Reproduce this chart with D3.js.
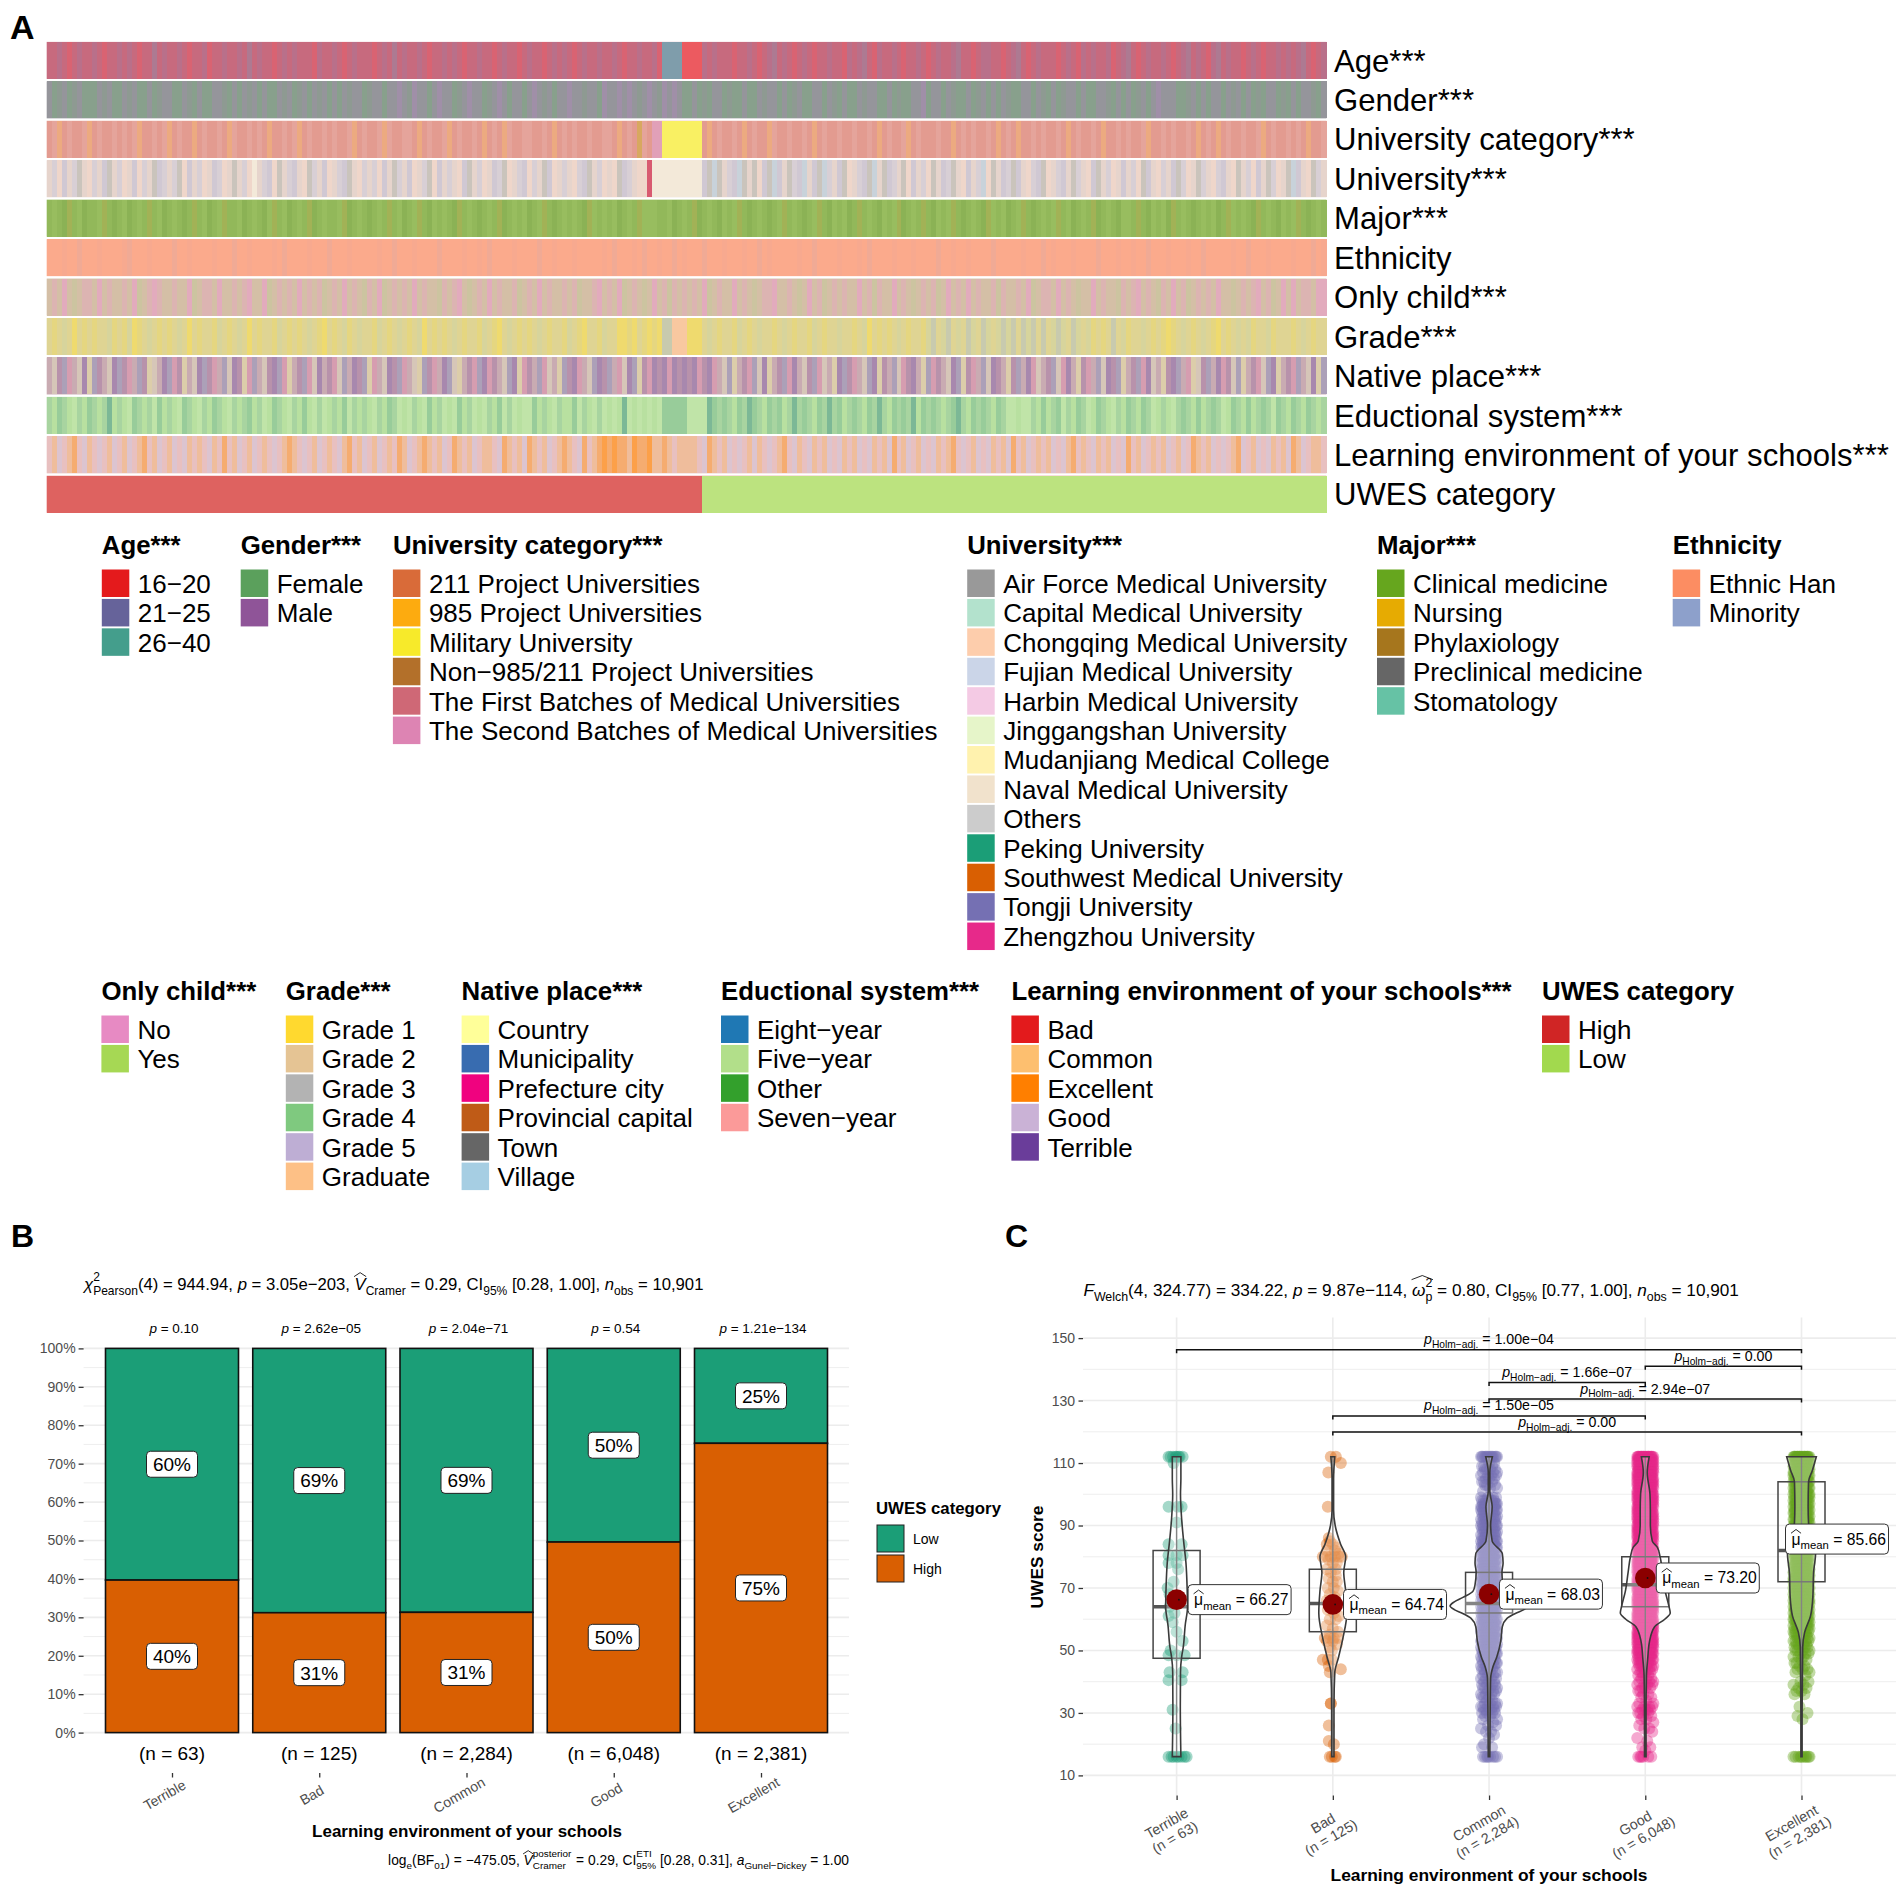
<!DOCTYPE html>
<html><head><meta charset="utf-8">
<script src="https://cdn.jsdelivr.net/npm/d3@7"></script>
<style>
html,body{margin:0;padding:0;background:#fff}
svg{display:block}
text{font-family:"Liberation Sans",Arial,sans-serif;fill:#000}
</style></head><body><svg id="c" width="1902" height="1891"></svg>
<script>
// ---------- Panel A: stripes (one letter per stripe) ----------
const rowNames=["Age***","Gender***","University category***","University***","Major***","Ethnicity","Only child***","Grade***","Native place***","Eductional system***","Learning environment of your schools***","UWES category"];
const stripesAge="aabacaba abacaaba bacaadab aabacaab caabaaba dabaacab abaaacba abacabaa acabadab aabacaab abacaaba acabaaca baacabab acabaaba abacaaba abceeeef fffbabaa acaabaca bdabacab acaabaac babdacba abacaaba cabaabda acabbaac abdacaba aacabacb abaabcab dacabaab acabdaba cbdabaac abacaaba babdacab";
const stripesGender="aghaghag ggahagga haggagha aggahgag gaahgaga hagaggah aghagaha gagahaag haagaapa hpaagapa aghapaag hapagaag apahagaa paahaagp aapapaha pahpapag gaghgaag hggaggah aagaghag gaagahga ggahaagg aghggaap gaagahgg aghagaga hggaagah gaghaaga ggaahgag aghagapa aagghaga gaagahag aghgaagh gagaahga";
const stripesUniCat="aboabaab oabaabab aboaabab oabaaoab aabaobaa babaoaab aboabaab abaaboab aabobaab baoabaab oabaabao abaobaab baabaoab abaabaab baoabasb appyyyyy yyyaoaba abaoabaa obaabaab aoabaaba abaabaoa baaboaba aabaaoab abaabaoa baoaabab aabaoaba abaoaaba baaboaab abaabaoa baoabaab aaboabaa babaoaab";
const stripesUniversity="abcdabea cbadeabc adcbaedb abecdabc adbcaeab cfabdcea bdacebad cabdeacb abcdaeba dcabecda bacdeabc adbecabd cbaedcab acbdeabc acedbacc rfffffff fffdegea bdgeaecd egdaebdg adegbade cabdegae dbaecdab ceadbeac dabgcead bedacbde cabdaeba cdeabcad abcedacb adebcaeb acbdacea bcdaebca egdaceba";
const stripesMajor="abadcabd aabcadab dabacabd abadacab dabcaabd abadbcab dabacdab aabcdaba dabacabd abcadbab adcabada bacdabab dabcadab abadcbab abdabacb bbaabdab acdabadb abcadaba dabcabad abcadbab dacabadb abcdabac adbabcad abadcbab dabcadab abcabdab acdabadb bacadbab dcabadab abdacbab adcabadb abcadaba";
const stripesEthnicity="aaabaaca aabaaaab caaabaaa acaabaaa abaaacaa baaaabac aaaabaaa caaabaaa aabaacaa abaaaaca aaabaaba caaaabaa aacaabaa abaaaaab acaaabac aabaacab aaacaaab aaabaaca baaaaaba acaaaaba aabacaaa abaaabaa aacaabaa baaaacaa aaabaaac abaaabaa aacaaaba abaacaaa baaabaac aaaaabaa caaabaaa abaaacab";
const stripesOnlyChild="abacadab bacabaab acdabcba abaacdab bacaabab caacdaba bacababd abacabad bacdabab acabaadb abcadaba cabaabda bacabaab abdaabca bacdabad acabdbab abacdaba acabadab bcaabada cabdabab aacabdba acabadab abdacaba cabaabdb aabacdab bacabada acabaadb abcabadb acabdaba bacaadab abcabdac acabbacc";
const stripesGrade="abacadab abaacbab cdbacaba bacadaba abcabaca dabaabca babacabd abacbaca abcabaca bacdabab acabaabc abdacaba bacabaab cabdaabc aaddbdab dbdeefff dddacaba abcabaca abacabaa bcabaaca abacdaba bacabaab ceaceaca ecaecace ceaeceae acecaeca cbabaeac baacabab dbacabac abdabaca cbaacbaa abacabaa";
const stripesNative="aebcdaef gcbaefcb dacbgeaf cdbgaefc bdacefbg dcaebfcd gabcdefa bdecafbc gdaefbcd aegcbdaf cegabdcf dbaecfgd bacdeagc bfdaecfb cadefcgb dfbfdfbf bfdbfdae cgabdcef gabcdfae bcdeagfc bdaecfgb acedbfag cdbaefcg bdacefba gbcafdea bcedfagb dacefbcg abcdfeag bfcadgeb cafdbecg abdecfga bdcaefgc";
const stripesEducation="abcabdab cabaebab dcabadcb abdcabda bcabdaba cbadbcab dabcbdad babcdaba bdabcadb dabdcbad bdcbadbd abcdadbd dcbabdab bcdabdad bdbedbdb dbdccccc ddddecac abcaecab cacbaeac abcaeacb acabcaea bcacaebc acabacea bcacabca ddbddabc bacdabca dbcabdab cabcadba bdacabcb acadbcab cbacadca bcabcaba";
const stripesLearning="abdabcad badabdab dabcabda bdadbaba dbacabda bdabadab cbadabda badbcabd abdabacb dabcbabd acbabdab badcbabd cbabdabc badcabce ceccbecc ebbcbabb bbadcbab dadabdba dabcadba dbabdadb abdadbab dcabdabd adbabcad abdadbab dcabdaba bdadbcab adbabdad cabdabab dabdacba bdadabcd abdadbab dcbdabba";
const stripesUWES="H".repeat(131)+"L".repeat(125);
const stripeRows=[stripesAge,stripesGender,stripesUniCat,stripesUniversity,stripesMajor,stripesEthnicity,stripesOnlyChild,stripesGrade,stripesNative,stripesEducation,stripesLearning,stripesUWES];
// Blended stripe colours
const stripeColours=[
 {a:"#c76a7e",b:"#b9708a",c:"#d96472",d:"#ad7a92",e:"#7f9dab",f:"#ec5a60"},
 {a:"#95959b",g:"#88a08c",p:"#a08fa8",h:"#8e9a92"},
 {a:"#e39b90",b:"#e5a49b",o:"#ecaa80",p:"#e1a0b8",y:"#f9f064",s:"#d8a860"},
 {a:"#e6d4cc",b:"#d8cfd5",c:"#efd6ca",d:"#d0c8d3",e:"#cac4bc",f:"#f3e9d9",r:"#d85a70",g:"#c8d2da"},
 {a:"#92b85a",b:"#98bd5e",c:"#a2b257",d:"#8bb254"},
 {a:"#fbaa8c",b:"#f7a98f",c:"#f0aa95"},
 {a:"#d4bfa6",b:"#dcb4b2",c:"#e2abbd",d:"#ccc4a0"},
 {a:"#dfd493",b:"#e5d680",c:"#d7d49c",d:"#efda6e",e:"#c8caae",f:"#f8c8a0"},
 {a:"#c9abb2",b:"#b892ab",c:"#aca0b8",d:"#d69db0",e:"#d6c6b8",f:"#a888ae",g:"#dccdaa"},
 {a:"#a8d4a0",b:"#b8e0a0",c:"#98cc9a",d:"#c0e4a8",e:"#7cb896"},
 {a:"#e8c0c0",b:"#efbd9c",c:"#f5ac70",d:"#dcc4d0",e:"#fca048"},
 {H:"#de6260",L:"#bce37f"}];

// ---------- Legends ----------
const legendAge=["16−20","21−25","26−40"];
const legendGender=["Female","Male"];
const legendUniCat=["211 Project Universities","985 Project Universities","Military University","Non−985/211 Project Universities","The First Batches of Medical Universities","The Second Batches of Medical Universities"];
const legendUniversity=["Air Force Medical University","Capital Medical University","Chongqing Medical University","Fujian Medical University","Harbin Medical University","Jinggangshan University","Mudanjiang Medical College","Naval Medical University","Others","Peking University","Southwest Medical University","Tongji University","Zhengzhou University"];
const legendMajor=["Clinical medicine","Nursing","Phylaxiology","Preclinical medicine","Stomatology"];
const legendEthnicity=["Ethnic Han","Minority"];
const legendOnlyChild=["No","Yes"];
const legendGrade=["Grade 1","Grade 2","Grade 3","Grade 4","Grade 5","Graduate"];
const legendNative=["Country","Municipality","Prefecture city","Provincial capital","Town","Village"];
const legendEducation=["Eight−year","Five−year","Other","Seven−year"];
const legendLearning=["Bad","Common","Excellent","Good","Terrible"];
const legendUWES=["High","Low"];
const coloursAge=["#e41a1c","#66639a","#449e8c"];
const coloursGender=["#5ba05c","#8f5498"];
const coloursUniCat=["#d96b39","#fdab0f","#f7ea2a","#b3702a","#cf6876","#dd84b3"];
const coloursUniversity=["#999999","#b3e2cd","#fdcdac","#cbd5e8","#f4cae4","#e6f5c9","#fff2ae","#f1e2cc","#cccccc","#1b9e77","#d95f02","#7570b3","#e7298a"];
const coloursMajor=["#66a61e","#e6ab02","#a6761d","#666666","#66c2a5"];
const coloursEthnicity=["#fc8d62","#8da0cb"];
const coloursOnlyChild=["#e78ac3","#a6d854"];
const coloursGrade=["#ffd92f","#e5c494","#b3b3b3","#7fc97f","#beaed4","#fdc086"];
const coloursNative=["#ffff99","#386cb0","#f0027f","#bf5b17","#666666","#a6cee3"];
const coloursEducation=["#1f78b4","#b2df8a","#33a02c","#fb9a99"];
const coloursLearning=["#e31a1c","#fdbf6f","#ff7f00","#cab2d6","#6a3d9a"];
const coloursUWES=["#d02525","#a2d94e"];

// ---------- Panel B ----------
const envCategories=["Terrible","Bad","Common","Good","Excellent"];
const envCounts=["(n = 63)","(n = 125)","(n = 2,284)","(n = 6,048)","(n = 2,381)"];
const highShare=[39.7,31.2,31.3,49.6,75.3];
const groupP=["0.10","2.62e−05","2.04e−71","0.54","1.21e−134"];
const yTicksB=[0,10,20,30,40,50,60,70,80,90,100];

// ---------- Panel C ----------
const means=[66.27,64.74,68.03,73.20,85.66];
const boxQ1=[47.5,56,62,64,72];
const boxMedian=[64,65,65,71,82];
const boxQ3=[82,76,75,80,104];
const whiskerLow=[16,16,16,16,16];
const whiskerHigh=[112,112,112,112,112];
const groupColours=["#1b9e77","#d95f02","#7570b3","#e7298a","#66a61e"];
// [score, density as % of widest]
const violinTerrible=[[112,11],[105,11],[100,10],[92,13],[85,18],[78,24],[70,27],[64,28],[58,22],[51,17],[48,13],[43,10],[32,9.5],[16,11]];
const violinBad=[[112,5],[105,2],[95,2],[90,6],[84,20],[80,33],[75,28],[69,33],[62,36],[54,26],[48,15],[43,5],[32,3],[16,3]];
const violinCommon=[[112,8.5],[107,2],[101,2],[96,8],[90,4],[85,8],[81,34],[78,36],[75,33],[71,36],[69,41],[67,67],[65.5,90],[64.2,100],[63,88],[62,70],[60.3,46],[57.6,34],[53,30],[48,20],[44.8,10],[41,4],[32,3],[16,2]];
const violinGood=[[112,10],[107,5],[100,12],[95,13],[90,13],[85,18],[83,31],[80,38],[75,44],[69,51],[64,61],[62,64],[60,50],[57.6,24],[53,11],[47,6],[42,3],[30,2],[16,2]];
const violinExcellent=[[112,38],[107.7,28],[104,18],[96,17],[91,18],[81,36],[75,31],[67,29],[61,23],[55.8,8],[51,3],[30,1.5],[16,1.5]];
const violins=[violinTerrible,violinBad,violinCommon,violinGood,violinExcellent];
// sparse groups: [score, jitter]
const pointsTerrible=[[112,-8],[112,-6],[112,-3.5],[112,-1],[112,0],[112,2],[112,3],[112,6],[110,-3],[96,-8],[96,1],[96,5],[91,0],[84,-8],[84,5],[80.5,-8],[80.5,0],[80.5,6],[78,-8],[78,0],[76,1.5],[72,-3],[70,-9],[68,-7],[66,-5],[64,-7],[62,-2],[61,-8],[59,-4],[56,0],[53,6],[50,-6],[48.5,-8],[48.5,0],[48.5,8],[43,-7],[43,6],[40.5,-8],[40.5,5],[31,-4],[25,-1],[16,-8],[16,-5],[16,-3],[16,0],[16,2],[16,5],[16,8],[16,10]];
const pointsBad=[[112,-2],[112,3],[110,8],[107,-4.5],[96,-5],[86,-4],[85,-3],[84,-6],[84,0],[83,3],[82,-6],[82,2],[81,6],[80,-10],[80,-6],[80,-2],[80,2],[80,6],[80,9],[79,-4],[78,0],[78,4],[76,-6],[76,3],[75,-2],[74,3],[73,-4],[72,0],[72,4],[70,-5],[70,1],[69,5],[68,-3],[67,2],[66,-6],[65,0],[64,4],[63,-5],[62,1],[61,6],[60,-3],[60,3],[58,-6],[57,0],[56,5],[55,-3],[54,-8],[54,-3],[54,1],[54,5],[53,-6],[53,0],[52,4],[51,-3],[50,-1],[47,-10],[47,-5],[47,-1],[45,-4],[44,8],[43,-3],[33,-2],[33,-2],[26,-4],[21,-4],[20,1],[16,-3],[16,-1],[16,2],[16,3]];
// dense groups: [score, number of dots drawn]
const countsCommon=[[112,14],[110,2],[109,3],[108,4],[107,3],[106,4],[105,3],[104,3],[103,3],[102,2],[101,1],[99,4],[98,7],[97,9],[96,11],[95,8],[94,7],[93,7],[92,7],[91,6],[90,7],[89,6],[88,7],[87,7],[86,6],[85,8],[84,8],[83,8],[82,8],[81,8],[80,9],[79,8],[78,8],[77,8],[76,8],[75,8],[74,8],[73,8],[72,9],[71,8],[70,8],[69,8],[68,9],[67,8],[66,8],[65,9],[64,9],[63,8],[62,8],[61,8],[60,8],[59,8],[58,8],[57,8],[56,8],[55,8],[54,8],[53,8],[52,7],[51,6],[50,7],[49,6],[48,6],[47,5],[46,6],[45,5],[44,4],[43,4],[42,3],[41,4],[40,3],[39,4],[38,4],[37,3],[36,4],[35,3],[34,2],[33,4],[32,5],[31,5],[30,4],[29,2],[28,2],[27,1],[26,2],[25,1],[24,2],[23,1],[22,1],[20,1],[19,2],[16,8]];
const countsGood=[[112,22],[111,14],[110,14],[109,14],[108,14],[107,14],[106,14],[105,14],[104,14],[103,14],[102,14],[101,14],[100,14],[99,14],[98,14],[97,14],[96,14],[95,14],[94,14],[93,14],[92,14],[91,14],[90,14],[89,14],[88,14],[87,14],[86,14],[85,14],[84,14],[83,14],[82,14],[81,14],[80,14],[79,14],[78,14],[77,14],[76,14],[75,14],[74,14],[73,14],[72,14],[71,14],[70,14],[69,14],[68,14],[67,14],[66,14],[65,14],[64,14],[63,14],[62,14],[61,14],[60,14],[59,14],[58,14],[57,14],[56,14],[55,14],[54,14],[53,14],[52,14],[51,12],[50,12],[49,10],[48,9],[47,8],[46,7],[45,6],[44,5],[43,4],[42,3],[41,3],[40,3],[39,4],[38,3],[37,2],[36,2],[35,2],[34,1],[33,2],[32,4],[31,4],[30,3],[29,2],[28,2],[27,1],[26,1],[25,2],[24,1],[22,1],[21,1],[19,2],[18,1],[16,6]];
const countsExcellent=[[112,22],[111,12],[110,10],[109,9],[108,9],[107,9],[106,9],[105,9],[104,9],[103,9],[102,9],[101,9],[100,9],[99,9],[98,9],[97,9],[96,9],[95,9],[94,9],[93,9],[92,9],[91,9],[90,9],[89,9],[88,9],[87,9],[86,9],[85,9],[84,9],[83,9],[82,9],[81,9],[80,9],[79,9],[78,9],[77,9],[76,9],[75,9],[74,9],[73,9],[72,9],[71,9],[70,9],[69,9],[68,9],[67,9],[66,9],[65,9],[64,9],[63,9],[62,9],[61,9],[60,9],[59,8],[58,8],[57,7],[56,6],[55,6],[54,5],[53,5],[52,5],[51,4],[50,4],[49,3],[48,3],[47,2],[46,2],[45,2],[44,3],[43,2],[42,1],[40,2],[39,2],[38,2],[37,2],[36,2],[32,1],[30,1],[29,1],[28,1],[16,10]];
const jitterList=[-7,3,-2,6,-4,1,8,-6,4,-1,7,-8,2,-3,5,0,-5];
const bracketPairs=[[0,4,146.3,"1.00e−04"],[3,4,141,"0.00"],[2,3,135.8,"1.66e−07"],[2,4,130.5,"2.94e−07"],[1,3,125.1,"1.50e−05"],[1,4,119.9,"0.00"]];
const yTicksC=[10,30,50,70,90,110,130,150];
const yMinorC=[20,40,60,80,100,120,140];

// ---------- Helpers ----------
const svg=d3.select("#c");
const greyText="#4d4d4d", gridCol="#ececec";

function rich(parent,x,y,parts,o={}){
  const t=parent.append("text").attr("x",x).attr("y",y).attr("font-size",o.size||15)
    .attr("text-anchor",o.anchor||"start");
  const base=o.size||15, small=base*0.72, d=base*0.28, up=base*0.55;
  let shift=0; const hats=[];
  const span=(txt,fs,off,it,dx)=>{
    const s=t.append("tspan").text(txt).attr("font-size",fs).attr("dy",off-shift);
    if(it)s.attr("font-style","italic");
    if(dx)s.attr("dx",dx);
    shift=off; return s;
  };
  parts.forEach(p=>{
    if(typeof p==="string")span(p,base,0);
    else if(p.hat){
      span(p.hat,base,0,!p.upright);
      hats.push({idx:t.node().getNumberOfChars()-1,top:p.top,extra:p.extra||0});
    }
    else if(p.i)span(p.i,base,0,true);
    else if(p.sub&&p.sup){
      const a=span(p.sup,small,-up);
      const w=a.node().getComputedTextLength();
      const b=span(p.sub,small,d,false,-w);
      const w2=b.node().getComputedTextLength();
      if(w2<w)span("\u200a",small,d,false,w-w2);
    }
    else if(p.sub)span(p.sub,small,d);
  });
  hats.forEach(h=>{
    const e=t.node().getExtentOfChar(h.idx);
    const x0=e.x-0.5, x1=e.x+e.width+0.5+h.extra, yb=y-base*h.top;
    parent.append("path").attr("d",`M${x0},${yb}L${(x0+x1)/2},${yb-base*0.24}L${x1},${yb}`)
      .attr("fill","none").attr("stroke","#111").attr("stroke-width",0.9);
  });
  return t;
}

// ---------- Panel A ----------
const defs=svg.append("defs");
defs.append("filter").attr("id","soft").attr("x","-1%").attr("width","102%")
  .append("feGaussianBlur").attr("stdDeviation","0.6 0");
const xHeat=d3.scaleBand().domain(d3.range(256)).range([46.7,1326.4]);
const yHeat=d3.scaleBand().domain(rowNames).range([41.9,512.8]).paddingInner(0.0616);
const gA=svg.append("g");
rowNames.forEach((name,r)=>{
  const letters=stripeRows[r].replace(/ /g,"").split("");
  const g=gA.append("g").attr("filter","url(#soft)");
  g.append("rect").attr("x",xHeat.range()[0]).attr("width",xHeat.range()[1]-xHeat.range()[0])
   .attr("y",yHeat(name)).attr("height",yHeat.bandwidth())
   .attr("fill",stripeColours[r][Object.keys(stripeColours[r])[0]]);
  g.selectAll("rect.s").data(letters).join("rect").attr("class","s")
   .attr("shape-rendering","crispEdges")
   .attr("x",(d,i)=>xHeat(i)).attr("width",xHeat.bandwidth()+0.4)
   .attr("y",yHeat(name)).attr("height",yHeat.bandwidth())
   .attr("fill",d=>stripeColours[r][d]);
  gA.append("text").attr("x",1334).attr("y",yHeat(name)+yHeat.bandwidth()/2)
   .attr("dy","0.36em").attr("font-size",31.1).text(name);
});
svg.append("text").attr("x",10).attr("y",39).attr("font-size",34).attr("font-weight","bold").text("A");
svg.append("text").attr("x",11).attr("y",1247).attr("font-size",32).attr("font-weight","bold").text("B");
svg.append("text").attr("x",1005).attr("y",1247).attr("font-size",32).attr("font-weight","bold").text("C");

function legend(x,yTitle,title,labels,colours){
  const g=svg.append("g");
  g.append("text").attr("x",x).attr("y",yTitle).attr("dy","0.36em").attr("font-weight","bold").attr("font-size",25.8).text(title);
  const y=d3.scaleLinear().domain([0,1]).range([yTitle+24.5,yTitle+24.5+29.42]);
  g.selectAll("rect").data(labels).join("rect").attr("x",x).attr("y",(d,i)=>y(i)).attr("width",27.5).attr("height",27.5)
   .attr("fill",(d,i)=>colours[i]);
  g.selectAll("text.l").data(labels).join("text").attr("class","l").attr("x",x+36).attr("y",(d,i)=>y(i)+14)
   .attr("dy","0.36em").attr("font-size",26).text(d=>d);
}
legend(101.8,545,"Age***",legendAge,coloursAge);
legend(240.7,545,"Gender***",legendGender,coloursGender);
legend(392.9,545,"University category***",legendUniCat,coloursUniCat);
legend(967.2,545,"University***",legendUniversity,coloursUniversity);
legend(1377,545,"Major***",legendMajor,coloursMajor);
legend(1672.7,545,"Ethnicity",legendEthnicity,coloursEthnicity);
legend(101.4,991,"Only child***",legendOnlyChild,coloursOnlyChild);
legend(285.8,991,"Grade***",legendGrade,coloursGrade);
legend(461.6,991,"Native place***",legendNative,coloursNative);
legend(721,991,"Eductional system***",legendEducation,coloursEducation);
legend(1011.4,991,"Learning environment of your schools***",legendLearning,coloursLearning);
legend(1542,991,"UWES category",legendUWES,coloursUWES);

// ---------- Panel B ----------
const gB=svg.append("g");
const xBc=d3.scalePoint().domain(envCategories).range([172,761]);
const yB=d3.scaleLinear().domain([0,100]).range([1732.6,1348.4]);
d3.range(0,101,5).forEach(v=>{
  gB.append("line").attr("x1",83.6).attr("x2",849).attr("y1",yB(v)).attr("y2",yB(v))
   .attr("stroke",gridCol).attr("stroke-width",v%10===0?1.6:0.9);
});
const bandB=133;
envCategories.forEach((c,i)=>{
  const cx=xBc(c), hi=highShare[i];
  [[100,hi,"#1b9e77"],[hi,0,"#d95f02"]].forEach(([a,b,col])=>{
    gB.append("rect").attr("x",cx-bandB/2).attr("width",bandB).attr("y",yB(a)).attr("height",yB(b)-yB(a))
      .attr("fill",col).attr("stroke","#111").attr("stroke-width",1.6);
  });
});
envCategories.forEach((c,i)=>{
  const cx=xBc(c), hi=highShare[i];
  [[100,hi],[hi,0]].forEach(([a,b])=>{
    const yc=yB((a+b)/2);
    gB.append("rect").attr("x",cx-25.5).attr("y",yc-13).attr("width",51).attr("height",26).attr("rx",4)
      .attr("fill","#fff").attr("stroke","#222").attr("stroke-width",1);
    gB.append("text").attr("x",cx).attr("y",yc).attr("dy","0.36em").attr("text-anchor","middle").attr("font-size",19)
      .text(Math.round(a-b)+"%");
  });
  rich(gB,cx+2,1332.5,[{i:"p"}," = "+groupP[i]],{size:13.5,anchor:"middle"});
  gB.append("text").attr("x",cx).attr("y",1752.7).attr("dy","0.36em").attr("text-anchor","middle").attr("font-size",19).text(envCounts[i]);
});
const axB=gB.append("g").attr("transform","translate(83.6,0)")
  .call(d3.axisLeft(yB).tickValues(yTicksB).tickFormat(d=>d+"%").tickSize(5).tickPadding(3));
axB.select(".domain").remove();
axB.selectAll("line").attr("stroke","#333").attr("stroke-width",1.3);
axB.selectAll("text").attr("font-size",14).style("fill",greyText).style("font-family",'"Liberation Sans"');
const axBx=gB.append("g").attr("transform","translate(0,1773)").call(d3.axisBottom(xBc).tickSize(4.5));
axBx.select(".domain").remove();
axBx.selectAll("line").attr("stroke","#333").attr("stroke-width",1.3);
axBx.selectAll("text").attr("font-size",14).style("fill",greyText).style("font-family",'"Liberation Sans"')
  .attr("text-anchor","middle").attr("x",0).attr("y",0).attr("dy","0.36em")
  .attr("transform","translate(-8,22) rotate(-30)");
gB.append("text").attr("x",467).attr("y",1831).attr("dy","0.36em").attr("text-anchor","middle").attr("font-weight","bold").attr("font-size",17).text("Learning environment of your schools");
rich(gB,84,1290,[{i:"χ"},{sup:"2",sub:"Pearson"},"(4) = 944.94, ",{i:"p"}," = 3.05e−203, ",{hat:"V",top:0.8},{sub:"Cramer"}," = 0.29, CI",{sub:"95%"}," [0.28, 1.00], ",{i:"n"},{sub:"obs"}," = 10,901"],{size:16.7});
rich(gB,849,1865,["log",{sub:"e"},"(BF",{sub:"01"},") = −475.05, ",{hat:"V",top:0.8},{sup:"posterior",sub:"Cramer"}," = 0.29, CI",{sup:"ETI",sub:"95%"}," [0.28, 0.31], ",{i:"a"},{sub:"Gunel−Dickey"}," = 1.00"],{size:13.8,anchor:"end"});
// B legend
gB.append("text").attr("x",876).attr("y",1507.5).attr("dy","0.36em").attr("font-weight","bold").attr("font-size",16.8).text("UWES category");
[["Low","#1b9e77"],["High","#d95f02"]].forEach(([l,col],i)=>{
  gB.append("rect").attr("x",877).attr("y",1525+30*i).attr("width",27).attr("height",27).attr("fill",col).attr("stroke","#222").attr("stroke-width",1);
  gB.append("text").attr("x",913).attr("y",1539+30*i).attr("dy","0.36em").attr("font-size",14).text(l);
});

// ---------- Panel C ----------
const gC=svg.append("g");
const xC=d3.scalePoint().domain(envCategories).range([1176.6,1801.5]);
const yC=d3.scaleLinear().domain([10,150]).range([1775.4,1338.1]);
const jitter=d3.scaleLinear().domain([-10,10]).range([-10,10]);
const vWidth=d3.scaleLinear().domain([0,100]).range([0,39]);
yMinorC.forEach(v=>gC.append("line").attr("x1",1083).attr("x2",1896).attr("y1",yC(v)).attr("y2",yC(v)).attr("stroke",gridCol).attr("stroke-width",0.9));
yTicksC.forEach(v=>gC.append("line").attr("x1",1083).attr("x2",1896).attr("y1",yC(v)).attr("y2",yC(v)).attr("stroke",gridCol).attr("stroke-width",1.6));
envCategories.forEach(c=>gC.append("line").attr("x1",xC(c)).attr("x2",xC(c)).attr("y1",1317.6).attr("y2",1795.5).attr("stroke",gridCol).attr("stroke-width",1.6));
const axC=gC.append("g").attr("transform","translate(1083,0)").call(d3.axisLeft(yC).tickValues(yTicksC).tickSize(4.5).tickPadding(3.5));
axC.select(".domain").remove();
axC.selectAll("line").attr("stroke","#333").attr("stroke-width",1.3);
axC.selectAll("text").attr("font-size",14).style("fill",greyText).style("font-family",'"Liberation Sans"');
const axCx=gC.append("g").attr("transform","translate(0,1795.5)").call(d3.axisBottom(xC).tickSize(4.5).tickFormat(""));
axCx.select(".domain").remove();
axCx.selectAll("line").attr("stroke","#333").attr("stroke-width",1.3);
envCategories.forEach((c,i)=>{
  const t=gC.append("text").attr("transform",`translate(${xC(c)-6},1830) rotate(-30)`).attr("text-anchor","middle").attr("font-size",14.3).style("fill",greyText);
  t.append("tspan").attr("x",0).attr("dy","-0.2em").text(c);
  t.append("tspan").attr("x",0).attr("dy","1.13em").text(envCounts[i]);
});
// expand dense groups into dots
const expand=counts=>{const out=[];let k=0;counts.forEach(([s,n])=>{for(let j=0;j<n;j++){out.push([s,jitterList[k%jitterList.length]]);k++;}});return out;};
const pointSets=[pointsTerrible,pointsBad,expand(countsCommon),expand(countsGood),expand(countsExcellent)];
envCategories.forEach((c,i)=>{
  gC.append("g").selectAll("circle").data(pointSets[i]).join("circle")
    .attr("cx",d=>xC(c)+jitter(d[1])).attr("cy",d=>yC(d[0])).attr("r",6)
    .attr("fill",groupColours[i]).attr("fill-opacity",0.4);
});
const boxW=47;
const vArea=(c)=>d3.area().y(d=>yC(d[0])).x0(d=>xC(c)-vWidth(d[1])).x1(d=>xC(c)+vWidth(d[1])).curve(d3.curveMonotoneY);
envCategories.forEach((c,i)=>{
  const cx=xC(c), g=gC.append("g");
  g.append("line").attr("x1",cx).attr("x2",cx).attr("y1",yC(whiskerHigh[i])).attr("y2",yC(whiskerLow[i])).attr("stroke","#555").attr("stroke-width",1.4);
  g.append("rect").attr("x",cx-boxW/2).attr("width",boxW).attr("y",yC(boxQ3[i])).attr("height",yC(boxQ1[i])-yC(boxQ3[i]))
   .attr("fill","none").attr("stroke","#444").attr("stroke-width",1.5);
  g.append("line").attr("x1",cx-boxW/2).attr("x2",cx+boxW/2).attr("y1",yC(boxMedian[i])).attr("y2",yC(boxMedian[i])).attr("stroke","#555").attr("stroke-width",3.5);
  g.append("path").datum(violins[i]).attr("d",vArea(c)).attr("fill","#fff").attr("fill-opacity",0.28).attr("stroke","#3a3a3a").attr("stroke-width",1.6);
});
const labelOffset=[11.5,10.7,10.4,11,-16];
envCategories.forEach((c,i)=>{
  const cx=xC(c), y=yC(means[i]);
  gC.append("circle").attr("cx",cx).attr("cy",y).attr("r",10.3).attr("fill","#8b0000");
  gC.append("circle").attr("cx",cx+2.3).attr("cy",y).attr("r",0.9).attr("fill","#111");
  const lx=cx+labelOffset[i];
  gC.append("rect").attr("x",lx).attr("y",y-15).attr("width",103).attr("height",30).attr("rx",4)
    .attr("fill","#fff").attr("stroke","#333").attr("stroke-width",1);
  rich(gC,lx+6,y+5.5,[{hat:"μ",upright:true,top:0.72},{sub:"mean"}," = "+means[i].toFixed(2)],{size:15.7});
});
bracketPairs.forEach(([a,b,v,lab])=>{
  const x1=xC(envCategories[a]),x2=xC(envCategories[b]),y=yC(v);
  gC.append("path").attr("d",`M${x1},${y+3.5}V${y}H${x2}V${y+3.5}`).attr("fill","none").attr("stroke","#111").attr("stroke-width",1.5);
  rich(gC,(x1+x2)/2,y-5.5,[{i:"p"},{sub:"Holm−adj."}," = "+lab],{size:14.2,anchor:"middle"});
});
gC.append("text").attr("transform","translate(1037,1557) rotate(-90)").attr("text-anchor","middle").attr("dy","0.36em").attr("font-weight","bold").attr("font-size",17.3).text("UWES score");
gC.append("text").attr("x",1489).attr("y",1874.7).attr("dy","0.36em").attr("text-anchor","middle").attr("font-weight","bold").attr("font-size",17.4).text("Learning environment of your schools");
rich(gC,1083.4,1296,[{i:"F"},{sub:"Welch"},"(4, 324.77) = 334.22, ",{i:"p"}," = 9.87e−114, ",{hat:"ω",top:0.95,extra:7},{sup:"2",sub:"p"}," = 0.80, CI",{sub:"95%"}," [0.77, 1.00], ",{i:"n"},{sub:"obs"}," = 10,901"],{size:17.2});
</script></body></html>
